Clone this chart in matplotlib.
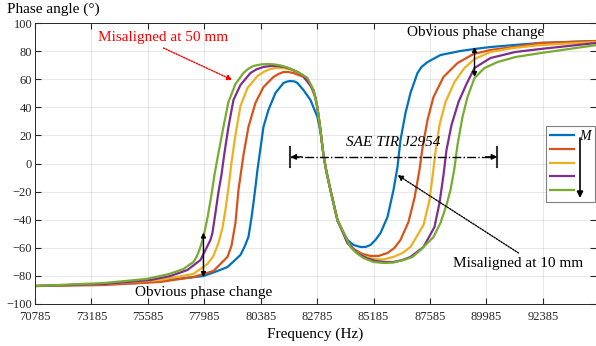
import matplotlib
matplotlib.use("Agg")
import matplotlib.pyplot as plt

plt.rcParams['font.family'] = 'serif'
plt.rcParams['font.serif'] = ['Liberation Serif', 'DejaVu Serif']

# phase curves, frequency in Hz, phase in degrees
f_m1 = [70785, 73695, 75100, 76802, 77950, 78546, 78972, 79525, 79695, 79865, 79993, 80078,
        80163, 80248, 80503, 80716, 81014, 81354, 81525, 81652, 81822, 81950, 82205, 82503,
        82801, 82929, 83056, 83184, 83354, 83652, 84078, 84333, 84631, 84843, 85056, 85269,
        85482, 85780, 86035, 86205, 86333, 86546, 86758, 87056, 87226, 87482, 88035, 88886,
        89482, 90163, 91141, 92290, 94673]
p_m1 = [-87.2, -85.8, -85.1, -82.2, -80.1, -76.5, -73.7, -65.1, -59.4, -52.3, -38.8, -28.1,
        -16.7, -4.6, 26.0, 38.1, 50.2, 57.3, 58.4, 58.7, 58.4, 57.3, 52.3, 45.2,
        33.1, 22.4, 6.0, -6.0, -18.9, -40.9, -54.4, -58.0, -59.4, -59.4, -58.0, -54.4,
        -49.5, -38.1, -18.9, -2.5, 16.7, 35.9, 50.2, 64.4, 68.7, 72.2, 77.2, 80.1,
        81.5, 82.9, 84.3, 85.8, 87.2]

f_m2 = [70785, 73695, 76121, 77525, 78376, 78972, 79142, 79312, 79440, 79525, 79653, 79865,
        80163, 80503, 80929, 81142, 81354, 81567, 81780, 81993, 82205, 82503, 82716, 82801,
        82929, 83056, 83184, 83354, 83652, 84078, 84333, 84716, 85056, 85397, 85780, 86077,
        86333, 86673, 86928, 87141, 87269, 87482, 87737, 88162, 88758, 89439, 90163, 91141,
        92290, 94673]
p_m2 = [-87.2, -86.5, -84.3, -80.8, -76.5, -66.5, -58.7, -42.3, -18.9, -8.9, 6.0, 26.0,
        43.1, 54.4, 61.6, 63.7, 65.1, 65.1, 64.4, 63.0, 61.6, 55.9, 46.6, 39.5,
        23.8, 6.0, -6.0, -18.9, -40.2, -55.9, -60.9, -64.4, -65.8, -65.8, -63.7, -60.1,
        -54.4, -41.6, -24.6, -4.6, 11.0, 31.0, 47.3, 61.6, 71.5, 77.9, 80.8, 82.9,
        85.8, 87.2]

f_m3 = [70785, 73695, 76121, 77525, 78121, 78376, 78589, 78759, 78886, 79014, 79142, 79312,
        79525, 79823, 80248, 80503, 80801, 81057, 81354, 81652, 81950, 82376, 82631, 82716,
        82801, 82929, 83056, 83184, 83354, 83652, 84078, 84333, 84759, 85184, 85609, 86035,
        86418, 86758, 87312, 87567, 87694, 87822, 87992, 88248, 88630, 89056, 89482, 90163,
        91141, 92290, 94673]
p_m3 = [-87.2, -85.8, -82.9, -78.6, -71.5, -65.8, -56.6, -45.9, -33.1, -17.4, 0.4, 20.3,
        40.9, 53.7, 62.3, 65.1, 67.3, 68.0, 68.0, 67.0, 65.1, 60.1, 52.3, 46.6,
        39.5, 23.8, 6.0, -6.0, -18.9, -40.2, -56.6, -61.6, -65.8, -68.0, -68.3, -66.5,
        -63.7, -59.4, -43.8, -26.0, -9.6, 8.2, 27.4, 43.8, 58.0, 68.0, 74.4, 79.4,
        82.2, 84.3, 86.5]

f_m4 = [70785, 73695, 75695, 76546, 77270, 77823, 78036, 78248, 78333, 78461, 78589, 78716,
        78844, 79014, 79227, 79525, 79950, 80205, 80503, 80801, 81099, 81397, 81652, 81950,
        82205, 82631, 82716, 82801, 82929, 83056, 83184, 83354, 83652, 84078, 84503, 84886,
        85269, 85652, 86035, 86418, 86758, 87312, 87779, 87992, 88162, 88290, 88503, 88801,
        89141, 89482, 90163, 91226, 92290, 94673]
p_m4 = [-87.2, -85.8, -82.9, -80.1, -75.8, -68.7, -61.6, -54.4, -49.5, -35.2, -20.3, -8.2,
        7.5, 26.0, 45.2, 55.9, 64.4, 67.0, 68.7, 69.4, 69.4, 68.7, 67.3, 65.1,
        62.3, 52.3, 46.6, 39.5, 23.8, 6.0, -6.0, -18.9, -40.2, -56.6, -63.7, -67.3,
        -69.4, -70.1, -70.1, -68.7, -66.5, -59.4, -45.2, -28.1, -8.2, 9.6, 27.4, 43.8,
        56.6, 68.0, 75.1, 79.4, 81.5, 85.8]

f_m5 = [70785, 73695, 75525, 76504, 77099, 77525, 77653, 77780, 77950, 78121, 78291, 78418,
        78589, 78801, 79014, 79312, 79653, 79865, 80078, 80376, 80674, 80971, 81227, 81525,
        81780, 82078, 82376, 82631, 82716, 82801, 82929, 83056, 83184, 83354, 83652, 84205,
        84460, 84759, 85184, 85609, 86035, 86460, 86843, 87184, 87737, 88035, 88290, 88460,
        88630, 88758, 88971, 89184, 89482, 89907, 90460, 91226, 92290, 94673]
p_m5 = [-87.2, -85.1, -82.2, -78.6, -75.1, -70.1, -66.5, -61.6, -52.3, -38.8, -22.4, -8.2,
        7.5, 26.0, 43.8, 56.6, 64.4, 67.5, 69.4, 70.5, 70.8, 70.5, 69.8, 68.3,
        66.5, 64.1, 60.9, 52.3, 46.6, 39.5, 23.8, 6.0, -6.0, -18.9, -40.2, -59.4,
        -63.7, -67.3, -70.1, -70.8, -70.5, -68.7, -66.5, -61.6, -52.3, -42.3, -29.5, -18.9,
        -3.2, 13.2, 33.1, 47.3, 60.9, 68.0, 72.2, 75.8, 78.6, 84.3]

curves = [(f_m1, p_m1), (f_m2, p_m2), (f_m3, p_m3), (f_m4, p_m4), (f_m5, p_m5)]
colors = ['#0072BD', '#D95319', '#EDB120', '#7E2F8E', '#77AC30']
xticks = [70785 + 2400 * k for k in range(10)]
yticks = list(range(-100, 101, 20))

fig = plt.figure(figsize=(5.96, 3.46), dpi=100)
ax = fig.add_axes([35 / 596, 1 - 304 / 346, 1 - 35 / 596, 281 / 346])

lines = []
for (f, p), c in zip(curves, colors):
    ln, = ax.plot(f, p, color=c, lw=1.6, solid_joinstyle='round')
    lines.append(ln)

ax.set_xlim(70785, 94650)
ax.set_ylim(-100, 100)
ax.set_xticks(xticks)
ax.set_yticks(yticks)
ax.tick_params(direction='in', top=True, right=True, length=4, labelsize=9,
               colors='#262626', pad=2)
ax.tick_params(axis='x', pad=5)
ax.grid(True, color='#262626', alpha=0.12, lw=0.6)
for s in ax.spines.values():
    s.set_color('#262626')
    s.set_linewidth(0.7)

ax.set_xlabel('Frequency (Hz)', fontsize=11, labelpad=3)
fig.text(7 / 596, 1 - 9 / 346, 'Phase angle (°)', fontsize=11, va='center', ha='left')

# annotations
ax.text(76248, 90, 'Misaligned at 50 mm', color='red', fontsize=11, ha='center', va='center')
ax.annotate('', xy=(79184, 59.4), xytext=(76248, 82.2),
            arrowprops=dict(arrowstyle='-|>', color='red', lw=1, linestyle=(0, (1, 1)),
                            mutation_scale=8, shrinkA=0, shrinkB=0))

ax.text(89524, 92.9, 'Obvious phase change', fontsize=11, ha='center', va='center')
ax.annotate('', xy=(89482, 82.9), xytext=(89482, 61.6),
            arrowprops=dict(arrowstyle='<|-|>', color='k', lw=1, mutation_scale=7,
                            shrinkA=0, shrinkB=0))

ax.text(77950, -91.5, 'Obvious phase change', fontsize=11, ha='center', va='center')
ax.annotate('', xy=(77950, -49.1), xytext=(77950, -80.8),
            arrowprops=dict(arrowstyle='<|-|>', color='k', lw=1, mutation_scale=7,
                            shrinkA=0, shrinkB=0))

# SAE band
band_lo, band_hi, band_y = 81650, 90450, 4.7
ax.plot([band_lo, band_hi], [band_y, band_y], color='k', lw=1, linestyle='-.')
for xb in (band_lo, band_hi):
    ax.plot([xb, xb], [band_y - 7, band_y + 7], color='#333333', lw=1.5)
ax.annotate('', xy=(band_lo, band_y), xytext=(band_lo + 500, band_y),
            arrowprops=dict(arrowstyle='-|>', color='k', lw=1, mutation_scale=8,
                            shrinkA=0, shrinkB=0))
ax.annotate('', xy=(band_hi, band_y), xytext=(band_hi - 500, band_y),
            arrowprops=dict(arrowstyle='-|>', color='k', lw=1, mutation_scale=8,
                            shrinkA=0, shrinkB=0))
ax.text(86035, 14.6, 'SAE TIR J2954', fontsize=11, style='italic', ha='center', va='center')

ax.text(91354, -71.2, 'Misaligned at 10 mm', fontsize=11, ha='center', va='center')
ax.annotate('', xy=(86205, -8.2), xytext=(91354, -63.7),
            arrowprops=dict(arrowstyle='-|>', color='k', lw=1, linestyle=(0, (1, 1)),
                            mutation_scale=8, shrinkA=0, shrinkB=0))

leg = ax.legend(lines, ['M', ' ', ' ', ' ', ' '], loc='upper left',
                bbox_to_anchor=(546 / 596, 1 - 126 / 346), bbox_transform=fig.transFigure,
                prop={'size': 10, 'style': 'italic'}, frameon=True, fancybox=False,
                edgecolor='#808080', framealpha=1, borderaxespad=0, borderpad=0.3,
                handlelength=1.7, handletextpad=0.4, labelspacing=0.05)
leg.get_frame().set_linewidth(0.8)
ax.annotate('', xy=(580 / 596, 1 - 198 / 346), xytext=(580 / 596, 1 - 138 / 346),
            xycoords='figure fraction',
            arrowprops=dict(arrowstyle='-|>', color='k', lw=1.2, mutation_scale=9,
                            shrinkA=0, shrinkB=0), zorder=10, annotation_clip=False)

fig.savefig('out.png', dpi=100)
